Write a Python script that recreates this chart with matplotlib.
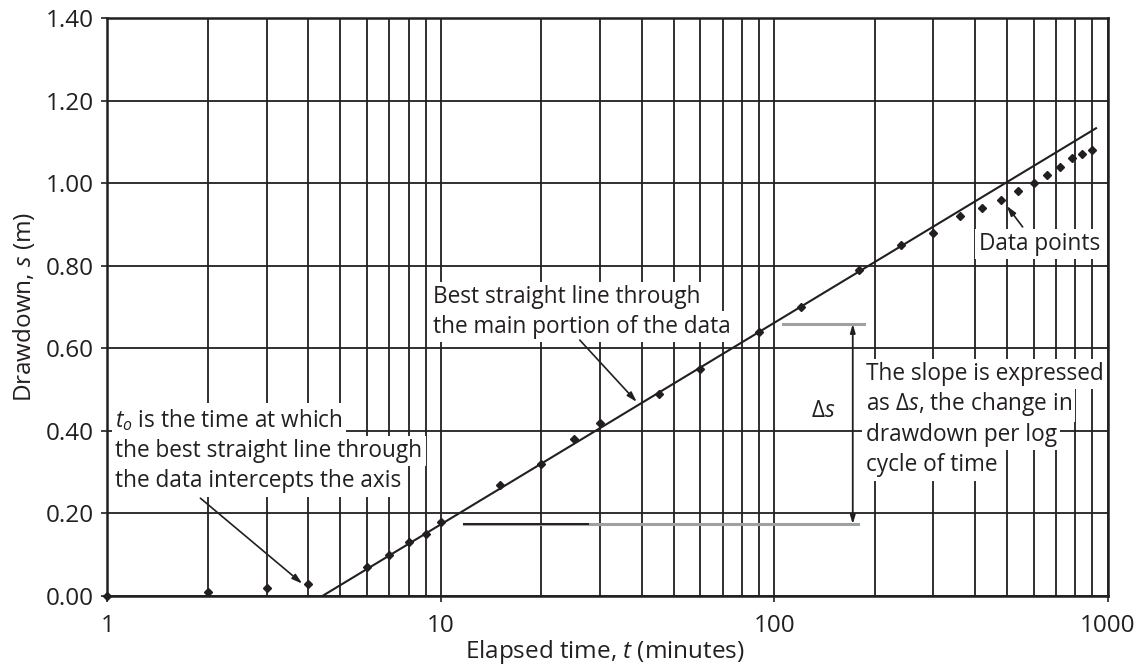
import numpy as np
import matplotlib
matplotlib.use("Agg")
import matplotlib.pyplot as plt
from matplotlib.ticker import FixedLocator, FixedFormatter, NullFormatter

plt.rcParams["font.family"] = ["Open Sans", "DejaVu Sans"]
plt.rcParams["mathtext.fontset"] = "custom"
plt.rcParams["mathtext.rm"] = "Open Sans"
plt.rcParams["mathtext.it"] = "Open Sans:italic"

INK = "#231f20"

# Measured drawdown data
time_min = [1, 2, 3, 4, 6, 7, 8, 9, 10, 15, 20, 25, 30, 45, 60, 90, 120, 180,
            240, 300, 360, 420, 480, 540, 600, 660, 720, 780, 840, 900]
drawdown_m = [0.00, 0.01, 0.02, 0.03, 0.07, 0.10, 0.13, 0.15, 0.18, 0.27, 0.32,
              0.38, 0.42, 0.49, 0.55, 0.64, 0.70, 0.79, 0.85, 0.88, 0.92, 0.94,
              0.96, 0.98, 1.00, 1.02, 1.04, 1.06, 1.07, 1.08]

# Best straight line (end points)
fit_t = [4.41, 923]
fit_s = [0.0, 1.133]

# Delta-s construction
ds_low, ds_high = 0.174, 0.659
ds_t = 172

x_ticks = [1, 10, 100, 1000]
x_tick_labels = ["1", "10", "100", "1000"]
y_ticks = [0.0, 0.2, 0.4, 0.6, 0.8, 1.0, 1.2, 1.4]
y_tick_labels = ["0.00", "0.20", "0.40", "0.60", "0.80", "1.00", "1.20", "1.40"]

fig = plt.figure(figsize=(11.42, 6.67), dpi=100)
ax = fig.add_axes([0.0941, 0.1064, 0.8758, 0.8666])

ax.set_xscale("log")
ax.set_xlim(1, 1000)
ax.set_ylim(0, 1.4)

minor_x = [m * d for d in (1, 10, 100) for m in range(2, 10)]
ax.xaxis.set_major_locator(FixedLocator(x_ticks))
ax.xaxis.set_major_formatter(FixedFormatter(x_tick_labels))
ax.xaxis.set_minor_locator(FixedLocator(minor_x))
ax.xaxis.set_minor_formatter(NullFormatter())
ax.set_yticks(y_ticks)
ax.set_yticklabels(y_tick_labels)

ax.grid(True, which="both", axis="x", color=INK, lw=1.3, zorder=0)
ax.grid(True, which="major", axis="y", color=INK, lw=1.3, zorder=0)
ax.tick_params(which="major", direction="out", length=4, width=1.2,
               color=INK, labelcolor=INK, labelsize=17.5)
ax.tick_params(axis="x", which="major", pad=9)
ax.tick_params(axis="y", which="major", pad=6)
ax.tick_params(which="minor", length=0)
for sp in ax.spines.values():
    sp.set_linewidth(1.8)
    sp.set_color(INK)

ax.set_xlabel("Elapsed time, $t$ (minutes)", fontsize=17.5, color=INK,
              va="baseline")
ax.xaxis.set_label_coords(0.497, -0.108)
ax.set_ylabel("Drawdown, $s$ (m)", fontsize=17.5, color=INK, labelpad=6)

# data and fitted line
ax.plot(fit_t, fit_s, color=INK, lw=1.5, zorder=3)
ax.plot(time_min, drawdown_m, ls="none", marker="D", ms=4.5, color=INK,
        zorder=4, clip_on=False)

# delta-s construction
ax.plot([11.7, 178], [ds_low, ds_low], color="#a0a0a0", lw=2.2, zorder=3)
ax.plot([11.7, 27.6], [ds_low, ds_low], color=INK, lw=1.4, zorder=3)
ax.plot([106, 186], [ds_high, ds_high], color="#a0a0a0", lw=2.2, zorder=3)
ax.annotate("", xy=(ds_t, ds_low), xytext=(ds_t, ds_high),
            arrowprops=dict(arrowstyle="<|-|>,head_length=0.5,head_width=0.15",
                            color=INK, lw=1.3, shrinkA=0, shrinkB=0), zorder=4)
ax.text(128.5, 0.434, r"$\mathit{\Delta s}$", fontsize=16.3, color=INK,
        va="baseline", ha="left", zorder=5)

box = dict(facecolor="white", edgecolor="none", pad=2.5)


def block(x, y0, lines, step=0.0735):
    for i, line in enumerate(lines):
        ax.text(x, y0 - i * step, line, fontsize=16.3, color=INK, ha="left",
                va="baseline", bbox=box, zorder=5)


block(1.057, 0.410, ["$t_o$ is the time at which",
                     "the best straight line through",
                     "the data intercepts the axis"])
block(9.44, 0.709, ["Best straight line through",
                    "the main portion of the data"], step=0.071)
block(188, 0.523, ["The slope is expressed",
                   "as Δ$s$, the change in",
                   "drawdown per log",
                   "cycle of time"])
block(410, 0.838, ["Data points"])

arrow = dict(arrowstyle="-|>,head_length=0.6,head_width=0.18", color=INK,
             lw=1.2, shrinkA=0, shrinkB=0)
ax.annotate("", xy=(3.84, 0.03), xytext=(1.9, 0.237), arrowprops=arrow, zorder=6)
ax.annotate("", xy=(38.7, 0.47), xytext=(26.1, 0.62), arrowprops=arrow, zorder=6)
ax.annotate("", xy=(498, 0.945), xytext=(556, 0.894), arrowprops=arrow, zorder=6)

fig.savefig("out.png", dpi=100)
